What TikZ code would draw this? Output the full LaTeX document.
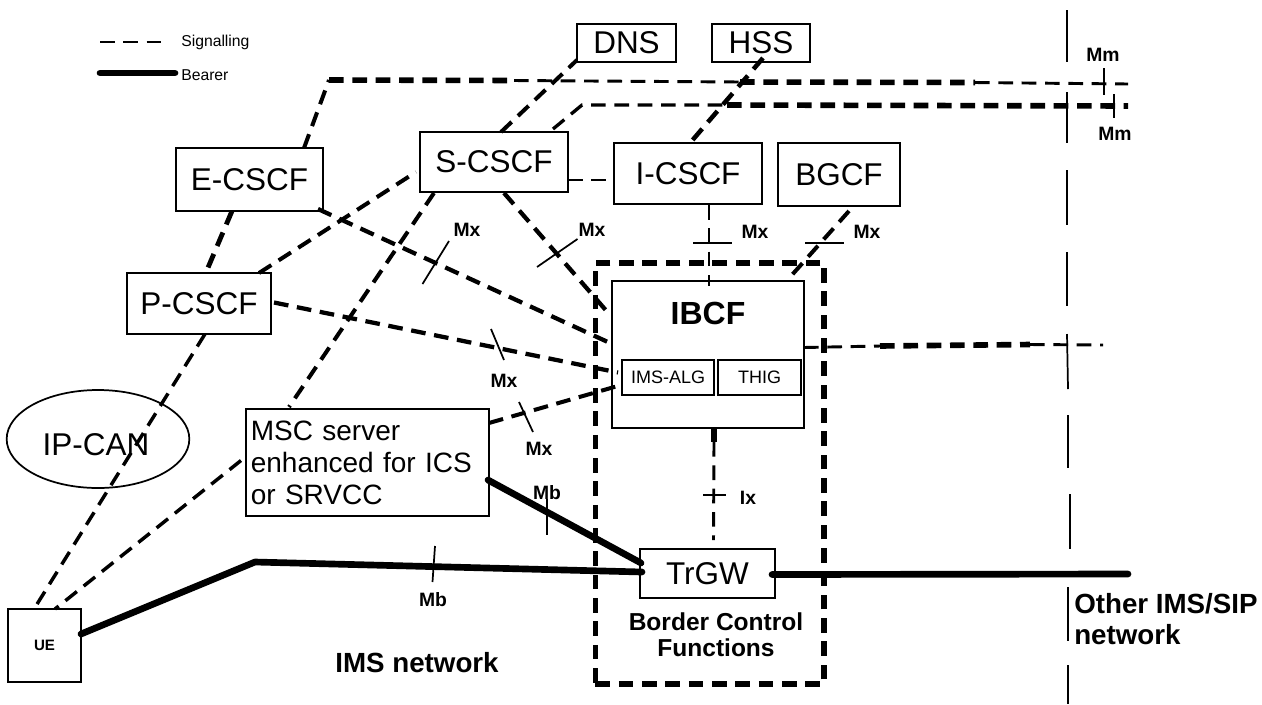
\documentclass[tikz,border=0pt]{standalone}
\usepackage{fontspec}
\setmainfont{Liberation Sans}
\usetikzlibrary{shapes.geometric}
\newcommand\fz[1]{\fontsize{#1}{#1}\selectfont}
\newcommand\bx[7][]{\node[boxs,#1,minimum width={(#5-#3)*0.75pt},minimum height={(#6-#4)*0.75pt}] (#2) at ({(#3+#5)/2},{(#4+#6)/2}) {#7};}
\tikzset{
  x=0.75pt,y=-0.75pt,
  boxs/.style={draw,line width=1.5pt,inner sep=0pt,outer sep=0pt,font=\fz{23.6}},
  sig/.style={dash pattern=on 11pt off 6.5pt,line cap=butt},
  thinsig/.style={sig,line width=2.2pt},
  midsig/.style={sig,line width=3pt},
  thicksig/.style={sig,line width=4.2pt},
  bearer/.style={line width=5pt,line cap=round,line join=round},
  tick/.style={line width=1.3pt},
  lab/.style={inner sep=0pt,font=\bfseries\fz{14.5}},
  biglab/.style={inner sep=0pt,font=\bfseries\fontsize{20.8}{23}\selectfont,align=left},
}
\begin{document}
\begin{tikzpicture}
\useasboundingbox (0,0) rectangle (1262,704);
% boxes
\bx{dns}{577}{24}{676}{62}{DNS}
\bx{hss}{712}{24}{810}{62}{HSS}
\bx{ecscf}{176}{148}{323}{211}{E-CSCF}
\bx{scscf}{420}{132}{568}{192}{S-CSCF}
\bx{icscf}{614}{143}{762}{204}{I-CSCF}
\bx{bgcf}{778}{143}{900}{206}{BGCF}
\bx{pcscf}{127}{273}{271}{334}{P-CSCF}
\bx{ibcf}{612}{281}{804}{428}{}
\bx[font=\fz{13.5}]{alg}{622}{360}{714}{395}{IMS-ALG}
\bx[font=\fz{13.5}]{thig}{718}{360}{801}{395}{THIG}
\bx{trgw}{640}{549}{775}{598}{TrGW}
\bx[font=\fontsize{21}{24}\selectfont,align=left,text width=175pt]{msc}{246}{409}{489}{516}{MSC server\\enhanced for ICS\\or SRVCC}
\bx[font=\bfseries\fz{11.3}]{ue}{8}{609}{81}{682}{UE}
\node[draw,ellipse,line width=1.3pt,inner sep=0pt,minimum width=137pt,minimum height=73.5pt] (ipcan) at (98,439) {};
\node[inner sep=0pt,font=\fz{23.6}] (ipcantext) at (96,445) {IP-CAN};
\node[inner sep=0pt,font=\bfseries\fz{24}] (ibcftext) at (708,313) {IBCF};
% border control box
\node[draw,thicksig,inner sep=0pt,minimum width=171.5pt,minimum height=315.7pt] (bcf) at (709.75,473.5) {};
% legend
\coordinate (lga) at (100,42); \coordinate (lgb) at (165,42);
\coordinate (lgc) at (100,73); \coordinate (lgd) at (175,73);
\draw[thinsig] (lga) -- (lgb);
\draw[bearer] (lgc) -- (lgd);
\node[anchor=west,inner sep=0pt,font=\fz{11.8}] (lgsig) at (181,42) {Signalling};
\node[anchor=west,inner sep=0pt,font=\fz{11.8}] (lgbear) at (181,75) {Bearer};
% top long lines
\coordinate (ta) at (329,80); \coordinate (tb) at (514,80.5); \coordinate (tc) at (740,82); \coordinate (td) at (975,82.5); \coordinate (te) at (1128,84);
\draw[midsig] ([shift={(128,0)}]ecscf.north west) -- (ta);
\draw[thicksig] (ta) -- (tb);
\draw[thinsig] (tb) -- (tc);
\draw[thicksig] (tc) -- (td);
\draw[thinsig] (td) -- (te);
\coordinate (ua) at (582,105); \coordinate (ub) at (727,105); \coordinate (uc) at (1128,106);
\draw[thinsig,line width=2.5pt] ([shift={(133,-3)}]scscf.north west) -- (ua) -- (ub);
\draw[thicksig] (ub) -- (uc);
% signalling
\draw[midsig] ([shift={(81,0)}]scscf.north west) -- ([shift={(0,-2)}]dns.south west);
\draw[midsig,line width=3.4pt] ([shift={(2,-4)}]hss.south) -- ([shift={(2,0)}]icscf.north);
\draw[thinsig] (scscf.east |- 0,180) -- (icscf.west |- 0,180);
\draw[midsig] ([shift={(132,0)}]pcscf.north west) -- ([shift={(-4,10)}]scscf.west);
\draw[thicksig,line width=3.6pt] ([shift={(56,0)}]ecscf.south west) -- ([shift={(80,-3)}]pcscf.north west);
\draw[midsig,line width=3.2pt] ([shift={(-5,-2)}]ecscf.south east) -- ([shift={(-2,62)}]ibcf.north west);
\draw[midsig,line width=3.2pt] ([shift={(84,1)}]scscf.south west) -- ([shift={(-2,34)}]ibcf.north west);
\draw[midsig] ([shift={(14,1)}]scscf.south west) -- ([shift={(43,-2)}]msc.north west);
\draw[midsig,line width=3.2pt] ([shift={(3,-1)}]pcscf.east) -- ([shift={(-4,-5)}]alg.west);
\draw[midsig] ([shift={(0,14)}]msc.north east) -- ([shift={(-6,9)}]alg.west);
\draw[thinsig,line width=2.6pt] ([shift={(78,0)}]pcscf.south west) -- ([shift={(26,0)}]ue.north west);
\draw[thinsig,line width=2.6pt] ([shift={(-5,-2)}]msc.west) -- ([shift={(47,0)}]ue.north west);
\draw[thinsig] ([shift={(21,1)}]icscf.south) -- ([shift={(1,5)}]ibcf.north);
\draw[midsig] ([shift={(10,5)}]bgcf.south) -- ([shift={(-13,-5)}]ibcf.north east);
\coordinate (ra) at (880,346); \coordinate (rb) at (1030,344.5); \coordinate (rc) at (1103,345);
\draw[thinsig] ([shift={(0,-7)}]ibcf.east) -- (ra);
\draw[thicksig] (ra) -- (rb);
\draw[thinsig] (rb) -- (rc);
\coordinate (ix) at (714,442);
\draw[thicksig] (ix) -- ([xshift=4.5pt]ibcf.south);
\draw[thinsig] ([shift={(6,14)}]ibcf.south) -- ([shift={(6,-9)}]trgw.north);
% bearer
\coordinate (bend) at (255,562);
\draw[bearer] ([shift={(0,25)}]ue.north east) -- (bend) -- ([shift={(2,23)}]trgw.north west);
\draw[bearer] ([shift={(-1,71)}]msc.north east) -- ([shift={(1,14)}]trgw.north west);
\coordinate (bearerend) at (1128,574);
\draw[bearer] ([shift={(-3,1)}]trgw.east) -- (bearerend);
% network border
\foreach \xa/\ya/\xb/\yb in {1067/10/1067/62,1067/92/1067/143,1067/170/1067/225,1067/252/1067/306,1067/334/1068/389,1068/415/1068/468,1070/494/1070/549,1068/587/1068/641,1068/665/1068/704}
  \draw[tick] (\xa,\ya) -- (\xb,\yb);
% ticks
\foreach \xa/\ya/\xb/\yb in {1104/68/1104/95,1114/94/1114/118,449/241/422.5/284,577.5/239/537/267,693/243/732/243,805/243/844/243,491/329/504/360,519/402/533/432,547/499/547/535,435/546/432.5/582,703/495/726/495}
  \draw[tick] (\xa,\ya) -- (\xb,\yb);
% labels
\node[lab] (mm1) at (1103,55) {Mm};
\node[lab] (mm2) at (1115,134) {Mm};
\node[lab] (mx1) at (467,230) {Mx};
\node[lab] (mx2) at (592,230) {Mx};
\node[lab] (mx3) at (755,232) {Mx};
\node[lab] (mx4) at (867,232) {Mx};
\node[lab] (mx5) at (504,381) {Mx};
\node[lab] (mx6) at (539,449) {Mx};
\node[lab] (mb1) at (547,493) {Mb};
\node[lab] (mb2) at (433,600) {Mb};
\node[lab] (ixl) at (748,498) {Ix};
\node[inner sep=0pt,font=\bfseries\fontsize{18.4}{19.5}\selectfont,align=center] (bcft) at (716,635) {Border Control\\Functions};
\node[biglab] (imsn) at (417,663) {IMS network};
\node[biglab,anchor=west] (other) at (1074,619) {Other IMS/SIP\\network};
\end{tikzpicture}
\end{document}
